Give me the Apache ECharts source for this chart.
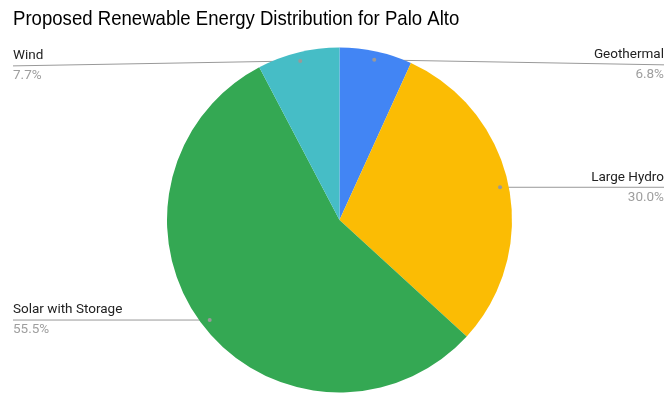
<!DOCTYPE html>
<html><head><meta charset="utf-8">
<script src="https://cdn.jsdelivr.net/npm/echarts@6/dist/echarts.min.js"></script>
<style>html,body{margin:0;padding:0;background:#fff}#c{width:665px;height:393px}</style>
</head><body><div id="c"></div>
<script>
const titleText = 'Proposed Renewable Energy Distribution for Palo Alto';
const categories = ['Geothermal', 'Large Hydro', 'Solar with Storage', 'Wind'];
const values = [6.8, 30.0, 55.5, 7.7];
const colors = ['#4285F4', '#FBBC04', '#34A853', '#46BDC6'];

const CX = 339.5, CY = 220, R = 172.5, DOT = 0.95;
const total = values.reduce((a, b) => a + b, 0);
const mids = [];
let acc = 0;
values.forEach(v => { mids.push((acc + v / 2) / total * 2 * Math.PI); acc += v; });
const dots = mids.map(a => [CX + DOT * R * Math.sin(a), CY - DOT * R * Math.cos(a)]);

const chart = echarts.init(document.getElementById('c'), null, {renderer: 'canvas'});
const LEFT = 13, RIGHT = 664;

chart.setOption({
  animation: false,
  graphic: [{
    type: 'text', x: 13, y: 9, scaleX: 0.885, z: 100,
    style: {text: titleText, fontFamily: 'Liberation Sans', fontSize: 21, fontWeight: 'normal', fill: '#000', verticalAlign: 'top'}
  }].concat(dots.map(d => ({type: 'circle', shape: {cx: d[0], cy: d[1], r: 2}, style: {fill: '#999'}, z: 100}))),
  series: [{
    type: 'pie',
    center: [CX, CY],
    radius: R,
    startAngle: 90,
    clockwise: true,
    data: categories.map((c, i) => ({name: c, value: values[i], itemStyle: {color: colors[i]}})),
    itemStyle: {borderWidth: 0},
    label: {
      show: true,
      formatter: p => '{n|' + p.name + '}\n{p|' + values[p.dataIndex].toFixed(1) + '%}',
      rich: {
        n: {fontFamily: 'Roboto, sans-serif', fontSize: 13.5, color: '#222', lineHeight: 20},
        p: {fontFamily: 'Roboto, sans-serif', fontSize: 13.5, color: '#9e9e9e', lineHeight: 20}
      }
    },
    labelLine: {show: true, length: 5, length2: 5, lineStyle: {color: '#999', width: 1}},
    labelLayout: function (params) {
      const i = params.dataIndex;
      const d = dots[i];
      const isLeft = d[0] < CX;
      let ly = d[1];
      if (i === 0 || i === 3) ly = d[1] + 5;
      return {
        x: isLeft ? LEFT : RIGHT, y: ly,
        align: isLeft ? 'left' : 'right', verticalAlign: 'middle',
        labelLinePoints: [[d[0], d[1]], [d[0], d[1]], [isLeft ? LEFT : RIGHT, ly]]
      };
    }
  }]
});
</script></body></html>
